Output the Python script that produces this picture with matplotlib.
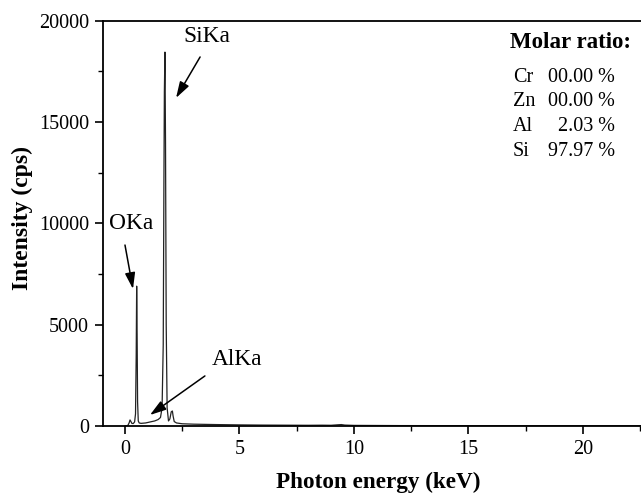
import matplotlib
matplotlib.use("Agg")
import matplotlib.pyplot as plt

# Spectrum (keV, counts)
energy = [0.00, 0.12, 0.18, 0.22, 0.26, 0.30, 0.36, 0.42, 0.46, 0.49, 0.51, 0.53, 0.55, 0.58, 0.62,
          0.70, 0.90, 1.10, 1.30, 1.45, 1.55, 1.62, 1.67, 1.70, 1.72, 1.745, 1.77, 1.80, 1.84, 1.90,
          1.96, 2.02, 2.07, 2.10, 2.15, 2.25, 2.5, 3.0, 4.0, 5.0, 6.0, 7.0, 8.0, 8.6, 9.0, 9.3,
          9.45, 9.6, 10.0, 11.0, 12.0, 14.0, 16.0, 18.0, 20.0, 22.0, 23.0]
counts = [0, 20, 150, 300, 220, 130, 120, 200, 600, 3500, 6900, 4500, 1200, 250, 150,
          130, 150, 200, 250, 320, 420, 900, 4000, 12000, 16500, 18450, 14000, 5000, 900, 250,
          350, 700, 740, 500, 220, 150, 110, 90, 70, 55, 45, 40, 35, 40, 35, 60,
          70, 45, 30, 25, 20, 18, 15, 13, 12, 10, 10]

xticks = [0, 5, 10, 15, 20]
yticks = [0, 5000, 10000, 15000, 20000]

ratio_elements = ["Cr", "Zn", "Al", "Si"]
ratio_values = ["00.00 %", "00.00 %", "2.03 %", "97.97 %"]

peak_labels = ["SiKa", "OKa", "AlKa"]
label_pos = [(3.58, 19200), (0.26, 9970), (4.89, 3257)]
arrow_tail = [(3.28, 18210), (0.0, 8930), (3.49, 2470)]
arrow_head = [(2.23, 16190), (0.35, 6760), (1.09, 543)]

plt.rcParams['font.family'] = ['Liberation Serif', 'DejaVu Serif']

W, H = 641, 493
fig = plt.figure(figsize=(W / 100, H / 100), dpi=100)
ax = fig.add_axes([103 / W, (H - 426) / H, 549.6 / W, 405.3 / H])

ax.plot(energy, counts, color='#222222', lw=0.9)

ax.set_xticks(xticks)
ax.set_yticks(yticks)
ax.set_xticks([2.5, 7.5, 12.5, 17.5, 22.5], minor=True)
ax.set_yticks([2500, 7500, 12500, 17500], minor=True)
ax.set_xlim(-0.96, 23.04)
ax.set_ylim(0, 20000)
ax.tick_params(which='major', direction='out', length=6, width=1.2, labelsize=14.5, pad=4)
ax.tick_params(which='minor', direction='out', length=3.5, width=1.0)
for s in ax.spines.values():
    s.set_linewidth(1.3)

ax.set_xlabel("Photon energy (keV)", fontsize=16.7, fontweight='bold', labelpad=9)
ax.set_ylabel("Intensity (cps)", fontsize=17, fontweight='bold')
ax.yaxis.set_label_coords(-0.127, 0.513)

arrow = dict(arrowstyle='-|>,head_length=0.7,head_width=0.22', color='black', lw=1.1,
             mutation_scale=14, shrinkA=0, shrinkB=0)
for lab, pos, tail, head in zip(peak_labels, label_pos, arrow_tail, arrow_head):
    ax.text(pos[0], pos[1], lab, fontsize=16.8, ha='center', va='center')
    ax.annotate('', xy=head, xytext=tail, arrowprops=arrow)

# Molar ratio box (figure pixel coordinates)
fig.text(510 / W, 1 - 43 / H, "Molar ratio:", fontsize=16.5, fontweight='bold',
         ha='left', va='center')
row_y = [78, 102, 126, 151]
for el, val, y in zip(ratio_elements, ratio_values, row_y):
    fig.text(513 / W, 1 - y / H, el, fontsize=14.5, ha='left', va='center')
    fig.text(615 / W, 1 - y / H, val, fontsize=14.5, ha='right', va='center')

fig.savefig("out.png", dpi=100)
